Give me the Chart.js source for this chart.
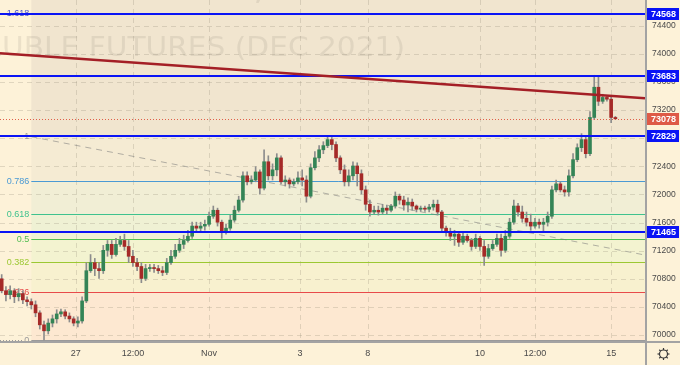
<!DOCTYPE html>
<html>
<head>
<meta charset="utf-8">
<script src="https://cdn.jsdelivr.net/npm/chart.js@4.4.0/dist/chart.umd.min.js"></script>
<style>
  html, body { margin: 0; padding: 0; background: #fdf2d8; overflow: hidden; }
</style>
</head>
<body>
<canvas id="chart" width="680" height="365"></canvas>
<script>
// hourly candles
const opens = [70800,70630,70575,70630,70545,70590,70500,70475,70430,70315,
  70145,70060,70170,70230,70300,70330,70270,70230,70170,70200,
  70485,70915,71030,70945,70915,71205,71290,71145,71290,71345,
  71260,71120,71030,70975,70805,70945,70960,70945,70915,70890,
  71030,71120,71205,71290,71345,71405,71550,71520,71550,71575,
  71690,71775,71605,71460,71520,71635,71775,71920,72265,72180,
  72205,72320,72090,72465,72265,72350,72520,72180,72205,72150,
  72180,72235,72205,71975,72380,72520,72635,72695,72780,72710,
  72520,72350,72180,72265,72405,72295,72065,71860,71750,71775,
  71750,71805,71775,71835,71975,71920,71850,71890,71835,71790,
  71805,71790,71820,71860,71750,71520,71460,71405,71435,71320,
  71405,71345,71260,71375,71260,71120,71230,71290,71375,71205,
  71405,71605,71835,71750,71660,71605,71550,71605,71575,71605,
  71690,72065,72150,72065,72035,72265,72495,72665,72780,72580,
  73095,73525,73325,73380,73355,73095];
const highs = [70860,70690,70700,70660,70660,70630,70545,70515,70485,70345,
  70200,70230,70285,70360,70370,70360,70315,70260,70260,70545,
  71030,71145,71090,71030,71275,71345,71345,71375,71405,71435,
  71345,71205,71090,71030,71005,71005,71005,70990,70975,71090,
  71205,71290,71375,71420,71490,71605,71605,71605,71635,71750,
  71835,71805,71635,71575,71705,71835,71975,72320,72320,72265,
  72395,72350,72635,72550,72435,72580,72550,72265,72235,72220,
  72320,72350,72265,72435,72610,72695,72750,72825,72810,72750,
  72550,72420,72350,72465,72450,72350,72120,71920,71835,71835,
  71860,71850,71860,72035,72005,71975,71950,71935,71850,71835,
  71835,71860,71920,71920,71775,71550,71520,71490,71460,71460,
  71435,71375,71435,71405,71345,71290,71345,71435,71435,71490,
  71660,71920,71875,71835,71750,71720,71660,71650,71660,71750,
  72120,72205,72180,72120,72350,72580,72720,72865,72835,73180,
  73695,73670,73425,73410,73380,73110];
const lows = [70600,70485,70515,70460,70485,70445,70415,70370,70260,70085,
  69930,70015,70115,70170,70260,70230,70185,70130,70115,70170,
  70460,70890,70845,70805,70875,71120,71090,71120,71260,71205,
  71030,70975,70915,70745,70775,70905,70890,70875,70845,70860,
  71005,71090,71175,71230,71320,71375,71460,71475,71490,71550,
  71660,71550,71375,71435,71490,71605,71750,71890,72135,72150,
  72180,72005,72065,72205,72205,72265,72150,72120,72090,72120,
  72150,72120,71890,71950,72350,72465,72580,72665,72635,72465,
  72295,72120,72120,72205,72120,72005,71775,71690,71720,71705,
  71720,71720,71750,71805,71860,71775,71750,71775,71750,71760,
  71760,71750,71775,71705,71460,71405,71345,71275,71260,71290,
  71320,71205,71230,71205,70990,71090,71205,71260,71120,71175,
  71375,71575,71690,71605,71550,71490,71520,71520,71460,71550,
  71660,72035,72035,71975,71975,72235,72465,72610,72520,72550,
  73065,73265,73295,73325,73020,73065];
const closes = [70630,70575,70630,70545,70590,70500,70475,70430,70315,70145,
  70060,70170,70230,70300,70330,70270,70230,70170,70200,70485,
  70915,71030,70945,70915,71205,71290,71145,71290,71345,71260,
  71120,71030,70975,70805,70945,70960,70945,70915,70890,71030,
  71120,71205,71290,71345,71405,71550,71520,71550,71575,71690,
  71775,71605,71460,71520,71635,71775,71920,72265,72180,72205,
  72320,72090,72465,72265,72350,72520,72180,72205,72150,72180,
  72235,72205,71975,72380,72520,72635,72695,72780,72710,72520,
  72350,72180,72265,72405,72295,72065,71860,71750,71775,71750,
  71805,71775,71835,71975,71920,71850,71890,71835,71790,71805,
  71790,71820,71860,71750,71520,71460,71405,71435,71320,71405,
  71345,71260,71375,71260,71120,71230,71290,71375,71205,71405,
  71605,71835,71750,71660,71605,71550,71605,71575,71605,71690,
  72065,72150,72065,72035,72265,72495,72665,72780,72580,73095,
  73525,73325,73380,73355,73095,73078];

// time axis: candle index where each label sits
const xTickPos = [17.5, 31, 49, 70.5, 86.5, 113, 126, 144];
const xTickLabels = ['27', '12:00', 'Nov', '3', '8', '10', '12:00', '15'];
const yTicks = [70000, 70400, 70800, 71200, 71600, 72000, 72400, 72800, 73200, 73600, 74000, 74400];

// drawings
const levelPrices = [74568, 73683, 72829, 71465];
const lastPrice = 73078;
const fibRatios = ['0', '0.236', '0.382', '0.5', '0.618', '0.786', '1', '1.618'];
const fibPrices = [69929, 70612, 71032, 71373, 71715, 72198, 72829, 74581];
const fibStartIdx = 7;
const redTrendX = [-0.4, 152];
const redTrendY = [74008, 73368];
const grayTrendX = [7, 152];
const grayTrendY = [72821, 71138];

const fibColors = ['#9a9a9a', '#e84a4a', '#9cc832', '#52bd52', '#3fc28e', '#4a9ad4', '#9a9a9a', '#4650cf'];
const bandColors = ['#fde8d1', '#f8f1cf', '#f3f3d0', '#eff1d4', '#f1eed5', '#f5ebd3', '#f1e5cf'];
const FONT = '"Liberation Sans", Arial, sans-serif';

const idx = closes.map((c, i) => i);
const bodies = idx.map(i => ({ x: i, y: [opens[i], closes[i]] }));
const wicks = idx.map(i => ({ x: i, y: [lows[i], highs[i]] }));
const bodyColors = idx.map(i => closes[i] >= opens[i] ? '#348456' : '#a52a28');

function seg(ctx, x1, y1, x2, y2) {
  ctx.beginPath(); ctx.moveTo(x1, y1); ctx.lineTo(x2, y2); ctx.stroke();
}

const backdrop = {
  id: 'backdrop',
  beforeDraw(chart) {
    const { ctx, chartArea: a, scales: { x, y } } = chart;
    ctx.save();
    ctx.fillStyle = '#fdf2d8';
    ctx.fillRect(0, 0, chart.width, chart.height);
    ctx.beginPath(); ctx.rect(a.left, a.top, a.right - a.left, a.bottom - a.top); ctx.clip();

    // fib zones
    const fx = x.getPixelForValue(fibStartIdx);
    for (let i = 0; i < bandColors.length; i++) {
      const y0 = y.getPixelForValue(fibPrices[i]);
      const y1 = i === bandColors.length - 1 ? a.top : y.getPixelForValue(fibPrices[i + 1]);
      ctx.fillStyle = bandColors[i];
      ctx.fillRect(fx, y1, a.right - fx, y0 - y1);
    }

    // watermark
    ctx.fillStyle = 'rgba(110,100,90,0.12)';
    ctx.font = '40px "DejaVu Sans"';
    ctx.textAlign = 'center';
    ctx.fillText('6RZ2021, 60', 200, -2);
    ctx.font = '27px "DejaVu Sans"';
    ctx.textAlign = 'left';
    const title = 'RUBLE FUTURES (DEC 2021)';
    const wR = ctx.measureText('R').width;
    const sx = 403 / (ctx.measureText(title).width - wR);
    ctx.save(); ctx.translate(2, 56); ctx.scale(sx, 1); ctx.fillText(title, -wR, 0); ctx.restore();

    // grid
    ctx.strokeStyle = 'rgba(140,130,110,0.25)';
    ctx.lineWidth = 1;
    ctx.setLineDash([5, 4]);
    yTicks.forEach(v => { const p = Math.round(y.getPixelForValue(v)) + 0.5; seg(ctx, a.left, p, a.right, p); });
    xTickPos.forEach(v => { const p = Math.round(x.getPixelForValue(v)) + 0.5; seg(ctx, p, a.top, p, a.bottom); });

    // fib lines + labels
    ctx.setLineDash([]);
    ctx.font = '9px ' + FONT;
    ctx.textAlign = 'right';
    ctx.textBaseline = 'middle';
    fibPrices.forEach((v, i) => {
      const p = Math.round(y.getPixelForValue(v)) + 0.5;
      ctx.strokeStyle = fibColors[i];
      seg(ctx, fx, p, a.right, p);
      ctx.fillStyle = fibColors[i];
      ctx.fillText(fibRatios[i], fx - 2, p);
    });
    ctx.strokeStyle = '#9a9a9a';
    ctx.setLineDash([1, 2]);
    const p0 = Math.round(y.getPixelForValue(fibPrices[0])) + 0.5;
    seg(ctx, a.left, p0, fx - 9, p0);

    // dashed fib trend line
    ctx.setLineDash([6, 5]);
    ctx.strokeStyle = 'rgba(120,120,120,0.55)';
    seg(ctx, x.getPixelForValue(grayTrendX[0]), y.getPixelForValue(grayTrendY[0]),
             x.getPixelForValue(grayTrendX[1]), y.getPixelForValue(grayTrendY[1]));
    ctx.restore();
  },
  afterDatasetsDraw(chart) {
    const { ctx, chartArea: a, scales: { x, y } } = chart;
    ctx.save();
    ctx.beginPath(); ctx.rect(a.left, a.top, a.right - a.left, a.bottom - a.top); ctx.clip();
    // last price
    ctx.strokeStyle = '#e0604a';
    ctx.lineWidth = 1;
    ctx.setLineDash([1, 2]);
    const lp = Math.round(y.getPixelForValue(lastPrice)) + 0.5;
    seg(ctx, a.left, lp, a.right, lp);
    ctx.setLineDash([]);
    // horizontal levels
    ctx.strokeStyle = '#0a14f5';
    ctx.lineWidth = 2;
    levelPrices.forEach(v => { const p = Math.round(y.getPixelForValue(v)); seg(ctx, a.left, p, a.right, p); });
    // red trend line
    ctx.strokeStyle = '#a41f26';
    ctx.lineWidth = 2.5;
    seg(ctx, x.getPixelForValue(redTrendX[0]), y.getPixelForValue(redTrendY[0]),
             x.getPixelForValue(redTrendX[1]), y.getPixelForValue(redTrendY[1]));
    ctx.restore();
  },
  afterDraw(chart) {
    const { ctx, chartArea: a, scales: { y } } = chart;
    ctx.save();
    ctx.fillStyle = '#a3a3a3';
    ctx.fillRect(a.right, 0, 2, chart.height);
    ctx.fillRect(0, a.bottom, chart.width, 2);

    ctx.font = 'bold 9px ' + FONT;
    ctx.textAlign = 'left';
    ctx.textBaseline = 'middle';
    const box = (v, color) => {
      const p = Math.round(y.getPixelForValue(v));
      ctx.fillStyle = color;
      ctx.fillRect(a.right + 2, p - 6, 32, 12);
      ctx.fillStyle = '#ffffff';
      ctx.fillText(String(v), a.right + 6, p + 0.5);
    };
    levelPrices.forEach(v => box(v, '#0a14f5'));
    box(lastPrice, '#de5a47');

    // settings gear
    const gx = (a.right + chart.width) / 2 + 1, gy = (a.bottom + chart.height) / 2 + 1;
    ctx.strokeStyle = '#3a3a3a';
    ctx.lineWidth = 1.2;
    ctx.beginPath(); ctx.arc(gx, gy, 4, 0, Math.PI * 2); ctx.stroke();
    for (let k = 0; k < 8; k++) {
      const t = k * Math.PI / 4;
      seg(ctx, gx + Math.cos(t) * 4, gy + Math.sin(t) * 4, gx + Math.cos(t) * 6, gy + Math.sin(t) * 6);
    }
    ctx.restore();
  }
};

new Chart(document.getElementById('chart'), {
  type: 'bar',
  data: {
    datasets: [
      { data: bodies, backgroundColor: bodyColors, borderWidth: 0, barThickness: 3,
        minBarLength: 1, grouped: false, order: 0 },
      { data: wicks, backgroundColor: '#8c8c8c', borderWidth: 0, barThickness: 1,
        grouped: false, order: 1 }
    ]
  },
  options: {
    responsive: false,
    animation: false,
    layout: { padding: 0 },
    plugins: { legend: { display: false }, tooltip: { enabled: false } },
    scales: {
      x: {
        type: 'linear', min: -0.4, max: 152, offset: false,
        grid: { display: false, drawTicks: false }, border: { display: false },
        afterBuildTicks: s => { s.ticks = xTickPos.map(v => ({ value: v })); },
        afterFit: s => { s.height = 24; s.paddingLeft = 0; s.paddingRight = 0; },
        ticks: { autoSkip: false, maxRotation: 0, padding: 7, color: '#4a4a4a',
                 font: { size: 9, family: FONT },
                 callback: (v, i) => xTickLabels[i] }
      },
      y: {
        position: 'right', min: 69915, max: 74766,
        grid: { display: false, drawTicks: false }, border: { display: false },
        afterBuildTicks: s => { s.ticks = yTicks.map(v => ({ value: v })); },
        afterFit: s => { s.width = 35; s.paddingTop = 0; s.paddingBottom = 0; },
        ticks: { padding: 7, color: '#4a4a4a', font: { size: 8.5, family: FONT },
                 callback: v => String(v) }
      }
    }
  },
  plugins: [backdrop]
});
</script>
</body>
</html>
